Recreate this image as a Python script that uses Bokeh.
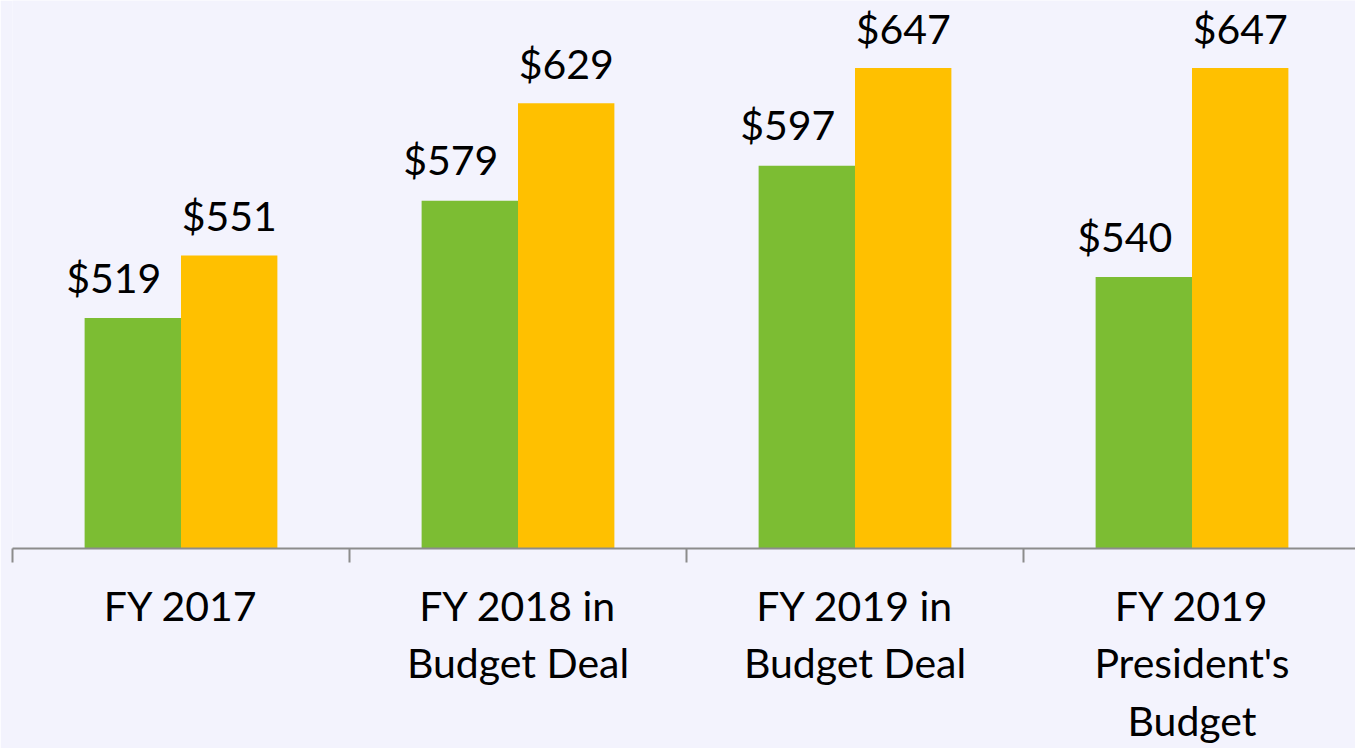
from bokeh.plotting import figure
from bokeh.models import ColumnDataSource, FixedTicker, Range1d
from bokeh.core.properties import value
from bokeh.embed import file_html
from bokeh.resources import INLINE

categories = ["FY 2017", "FY 2018 in\nBudget Deal", "FY 2019 in\nBudget Deal", "FY 2019\nPresident's\nBudget"]
series_green = [519, 579, 597, 540]
series_yellow = [551, 629, 647, 647]

BG = "#F3F3FD"
GREEN = "#7CBD33"
YELLOW = "#FFC000"
AXIS = "#8C8C8C"
FONT = "Lato"

idx = list(range(len(categories)))
bar_w = 0.286
green_src = ColumnDataSource(dict(
    x=[i + 0.5 - bar_w / 2 for i in idx], top=series_green,
    label=["$%d" % v for v in series_green]))
yellow_src = ColumnDataSource(dict(
    x=[i + 0.5 + bar_w / 2 for i in idx], top=series_yellow,
    label=["$%d" % v for v in series_yellow]))

p = figure(width=1355, height=748, output_backend="svg", toolbar_location=None,
           x_range=Range1d(0, 1343 / 337), y_range=Range1d(401, 401 + 548 / 1.953),
           y_axis_location=None, min_border_left=12, min_border_right=0,
           min_border_top=0, min_border_bottom=200)
p.background_fill_color = BG
p.border_fill_color = BG
p.outline_line_color = None
p.grid.visible = False

p.vbar(x="x", top="top", bottom=0, width=bar_w, source=green_src,
       fill_color=GREEN, line_color=None)
p.vbar(x="x", top="top", bottom=0, width=bar_w, source=yellow_src,
       fill_color=YELLOW, line_color=None)

p.text(x="x", y="top", text="label", source=green_src, x_offset=-19, y_offset=-41,
       text_align="center", text_baseline="alphabetic", text_font=value(FONT),
       text_font_size="41px", text_color="#000000")
p.text(x="x", y="top", text="label", source=yellow_src, x_offset=0, y_offset=-40,
       text_align="center", text_baseline="alphabetic", text_font=value(FONT),
       text_font_size="41px", text_color="#000000")

ax = p.xaxis[0]
ax.ticker = FixedTicker(ticks=[i + 0.5 for i in idx], minor_ticks=[float(i) for i in range(len(categories) + 1)])
ax.major_label_overrides = {i + 0.5: c for i, c in zip(idx, categories)}
ax.major_tick_line_color = None
ax.major_tick_out = 14
ax.major_tick_in = 0
ax.minor_tick_line_color = AXIS
ax.minor_tick_line_width = 2
ax.minor_tick_out = 14
ax.minor_tick_in = 0
ax.axis_line_color = AXIS
ax.axis_line_width = 2
ax.major_label_text_font = FONT
ax.major_label_text_font_size = "41px"
ax.major_label_text_color = "#000000"
ax.major_label_text_line_height = 1.18
ax.major_label_standoff = 18

open("out.html", "w").write(file_html(p, INLINE))
